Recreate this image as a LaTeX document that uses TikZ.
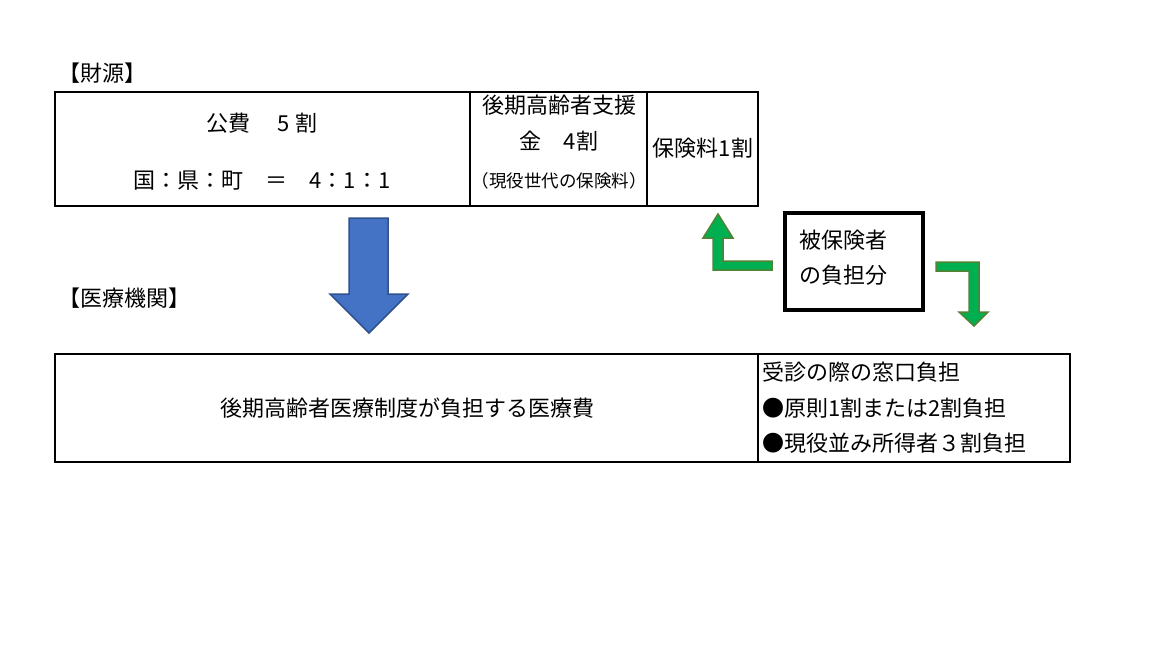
\documentclass[tikz,border=0pt]{standalone}
\usepackage{fontspec}
\newfontfamily\jpfont{Noto Sans CJK JP}
\definecolor{armblue}{RGB}{68,114,196}
\definecolor{armblueline}{RGB}{47,82,143}
\definecolor{armgreen}{RGB}{0,176,80}
\definecolor{armgreenline}{RGB}{84,130,53}

\begin{document}
\begin{tikzpicture}[x=1pt,y=-1pt,
    every node/.style={font=\jpfont\fontsize{22}{26}\selectfont,inner sep=0pt},
    cell/.style={draw,line width=1.5pt},
    small/.style={font=\jpfont\fontsize{17.5}{20}\selectfont}]
        \useasboundingbox (0,0) rectangle (1162,648);

        % 財源
        \node[anchor=west] (zaigen) at (58,73) {【財源】};
        \node[cell,minimum width=415pt,minimum height=114pt] (kohi) at (262.5,149) {};
        \node[cell,minimum width=177pt,minimum height=114pt] (shien) at (558.5,149) {};
        \node[cell,minimum width=111pt,minimum height=114pt] (hokenryo) at (702.5,149) {};
        \node (kohi1) at (262,123) {公費　 5 割};
        \node (kohi2) at (262,181) {国：県：町　＝　4：1：1};
        \node (shien1) at (559,105) {後期高齢者支援};
        \node (shien2) at (559,141) {金　4割};
        \node[small] (shien3) at (559,181) {（現役世代の保険料）};
        \node (hokenryo1) at (703,148) {保険料1割};

        % 医療機関
        \node[anchor=west] (kikan) at (58,298) {【医療機関】};
        \node[cell,minimum width=703pt,minimum height=108pt] (iryo) at (406.5,408) {};
        \node[cell,minimum width=312pt,minimum height=108pt] (madoguchi) at (914,408) {};
        \node (iryo1) at (407,408) {後期高齢者医療制度が負担する医療費};
        \node[anchor=west] (mado1) at (762,372) {受診の際の窓口負担};
        \node[anchor=west] (mado2) at (762,408) {●原則1割または2割負担};
        \node[anchor=west] (mado3) at (762,443) {●現役並み所得者３割負担};

        % 被保険者
        \node[draw,line width=4pt,minimum width=138pt,minimum height=97pt] (futan) at (854,261.5) {};
        \node[anchor=west,align=left] (futan1) at (799,257.5) {被保険者\\[9pt]の負担分};

        % arrows
        \filldraw[fill=armblue,draw=armblueline,line width=1.5pt,line join=miter]
            (349,218) -- (388,218) -- (388,294) -- (408,294) -- (369,333) -- (330,294) -- (349,294) -- cycle;
        \filldraw[fill=armgreen,draw=armgreenline,line width=1.5pt]
            (772,261) -- (772,270) -- (713,270) -- (713,238) -- (703,238) -- (718,214) -- (733,238) -- (723,238) -- (723,261) -- cycle;
        \filldraw[fill=armgreen,draw=armgreenline,line width=1.5pt]
            (936,262) -- (979,262) -- (979,312) -- (988,312) -- (974,326) -- (959,312) -- (969,312) -- (969,271) -- (936,271) -- cycle;
    \end{tikzpicture}
\end{document}
